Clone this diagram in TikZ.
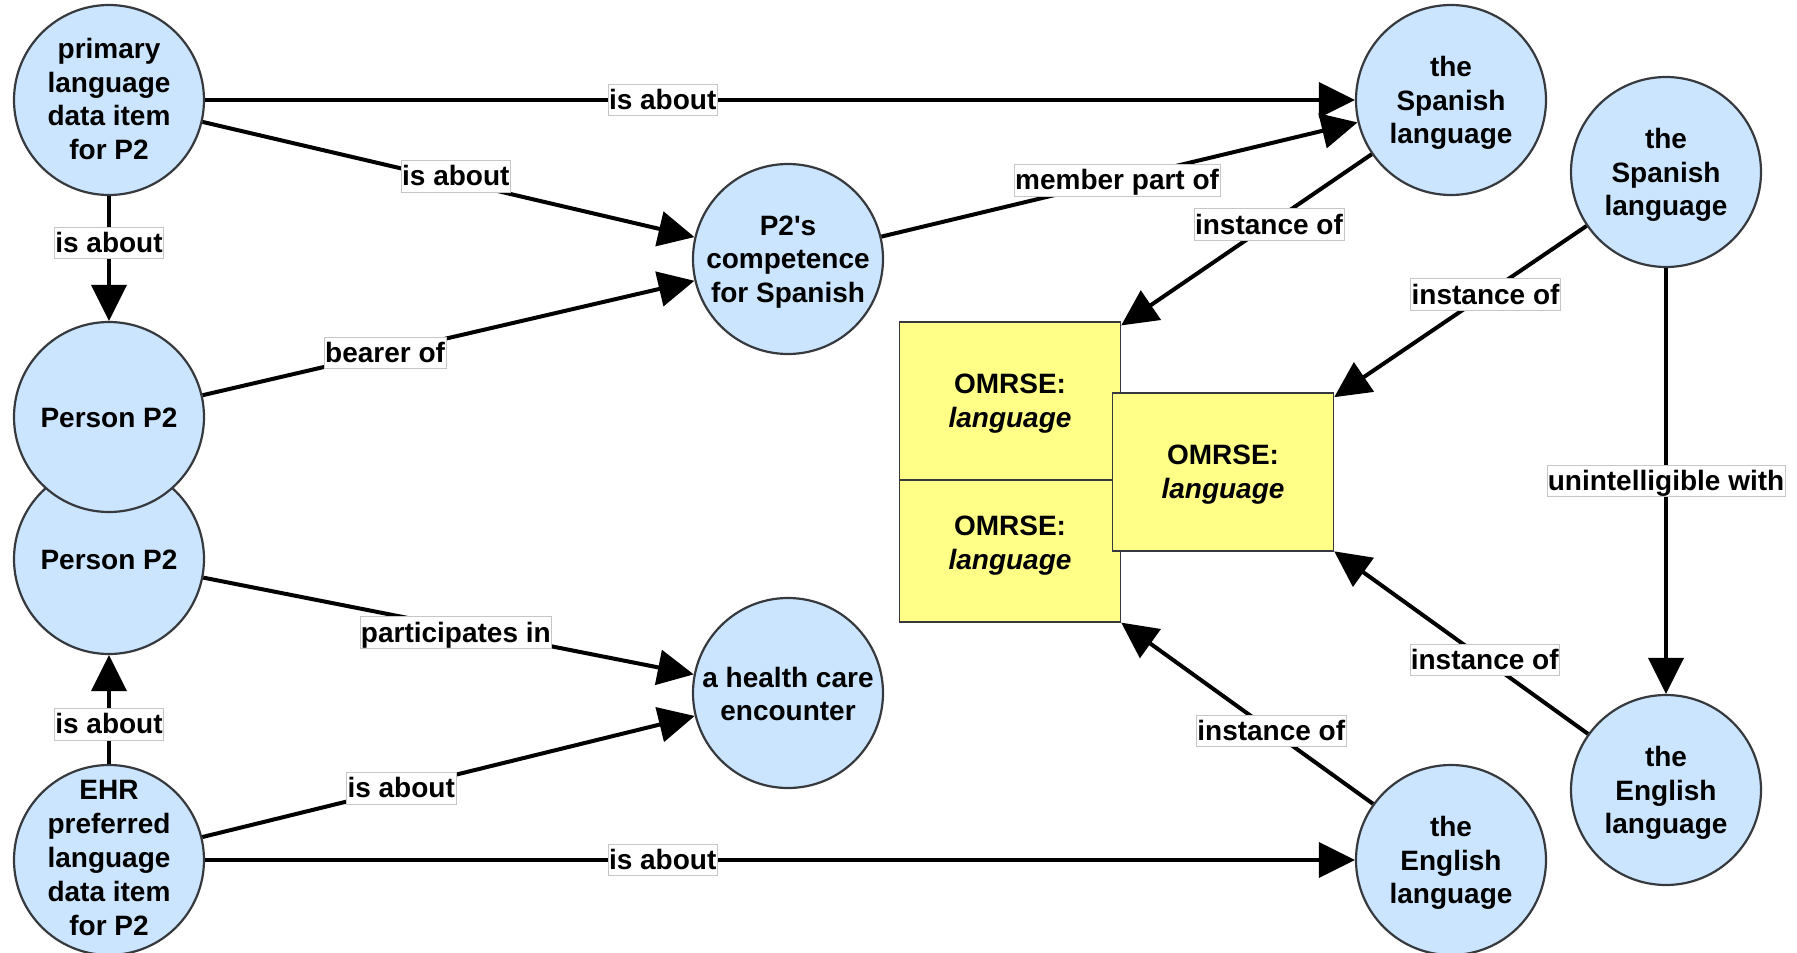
\documentclass[tikz,border=0pt]{standalone}
\usepackage{fontspec}
\setmainfont{Liberation Sans}
\usetikzlibrary{arrows.meta}
\definecolor{bubfill}{HTML}{CCE5FF}
\definecolor{bubline}{HTML}{36393D}
\definecolor{boxfill}{HTML}{FFFF88}
\tikzset{
  bubble/.style={circle, draw=bubline, fill=bubfill, line width=2.2pt, minimum size=190pt, inner sep=0pt},
  bubtext/.style={align=center, font=\fontsize{28}{33.8}\selectfont\bfseries, inner sep=0pt, yshift=-1pt},
  classbox/.style={rectangle, draw=bubline, fill=boxfill, line width=1.4pt, minimum width=221pt, minimum height=158pt, inner sep=0pt},
  rel/.style={line width=4pt, -{Triangle[length=36pt,width=35pt]}},
  tag/.style={fill=white, draw=gray!45, line width=0.6pt, inner xsep=1pt, inner ysep=0.5pt,
    font=\fontsize{28}{33.8}\selectfont\bfseries, text height=25pt, text depth=5.5pt}
}
\begin{document}
\begin{tikzpicture}[x=1pt, y=-1pt]
\useasboundingbox (0,0) rectangle (1797,953);

% data items, persons and processes
\node[bubble, label={[bubtext, yshift=2pt]center:{primary\\language\\data item\\for P2}}] (A) at (109,100) {};
\node[bubble, label={[bubtext]center:{Person P2}}] (C) at (109,559) {};
\node[bubble, label={[bubtext]center:{Person P2}}] (B) at (109,417) {};
\node[bubble, label={[bubtext, yshift=3pt]center:{EHR\\preferred\\language\\data item\\for P2}}] (D) at (109,860) {};
\node[bubble, label={[bubtext, yshift=-2pt]center:{P2\textquotesingle s\\competence\\for Spanish}}] (E) at (788,259) {};
\node[bubble, label={[bubtext]center:{a health care\\encounter}}] (F) at (788,693) {};

% language individuals
\node[bubble, label={[bubtext, yshift=-2pt]center:{the\\Spanish\\language}}] (G) at (1451,100) {};
\node[bubble, label={[bubtext, yshift=-2pt]center:{the\\Spanish\\language}}] (H) at (1666,172) {};
\node[bubble, label={[bubtext, yshift=-2pt]center:{the\\English\\language}}] (I) at (1451,860) {};
\node[bubble, label={[bubtext, yshift=-2pt]center:{the\\English\\language}}] (J) at (1666,790) {};

% language classes (stacked)
\node[classbox, label={[bubtext, yshift=-2pt]center:{OMRSE:\\\textit{language}}}] (R2) at (1010,543) {};
\node[classbox, label={[bubtext, yshift=-2pt]center:{OMRSE:\\\textit{language}}}] (R1) at (1010,401) {};
\node[classbox, label={[bubtext, yshift=-2pt]center:{OMRSE:\\\textit{language}}}] (R3) at (1223,472) {};

% relations
\draw[rel] (A) -- node[tag, pos=0.398] {is about} (G);
\draw[rel] (A) -- node[tag, pos=0.515, yshift=5pt] {is about} (E);
\draw[rel] (A) -- node[tag, pos=0.375] {is about} (B);
\draw[rel] (B) -- node[tag, pos=0.371] {bearer of} (E);
\draw[rel] (E) -- node[tag, pos=0.495] {member part of} (G);
\draw[rel] (G) -- node[tag, pos=0.41] {instance of} (R1);
\draw[rel] (H) -- node[tag, pos=0.40] {instance of} (R3);
\draw[rel] (H) -- node[tag, pos=0.5] {unintelligible with} (J);
\draw[rel] (C) -- node[tag, pos=0.515, yshift=-5pt] {participates in} (F);
\draw[rel] (D) -- node[tag, pos=0.365] {is about} (C);
\draw[rel] (D) -- node[tag, pos=0.404] {is about} (F);
\draw[rel] (D) -- node[tag, pos=0.398] {is about} (I);
\draw[rel] (I) -- node[tag, pos=0.404] {instance of} (R2);
\draw[rel] (J) -- node[tag, pos=0.407] {instance of} (R3);
\end{tikzpicture}
\end{document}
